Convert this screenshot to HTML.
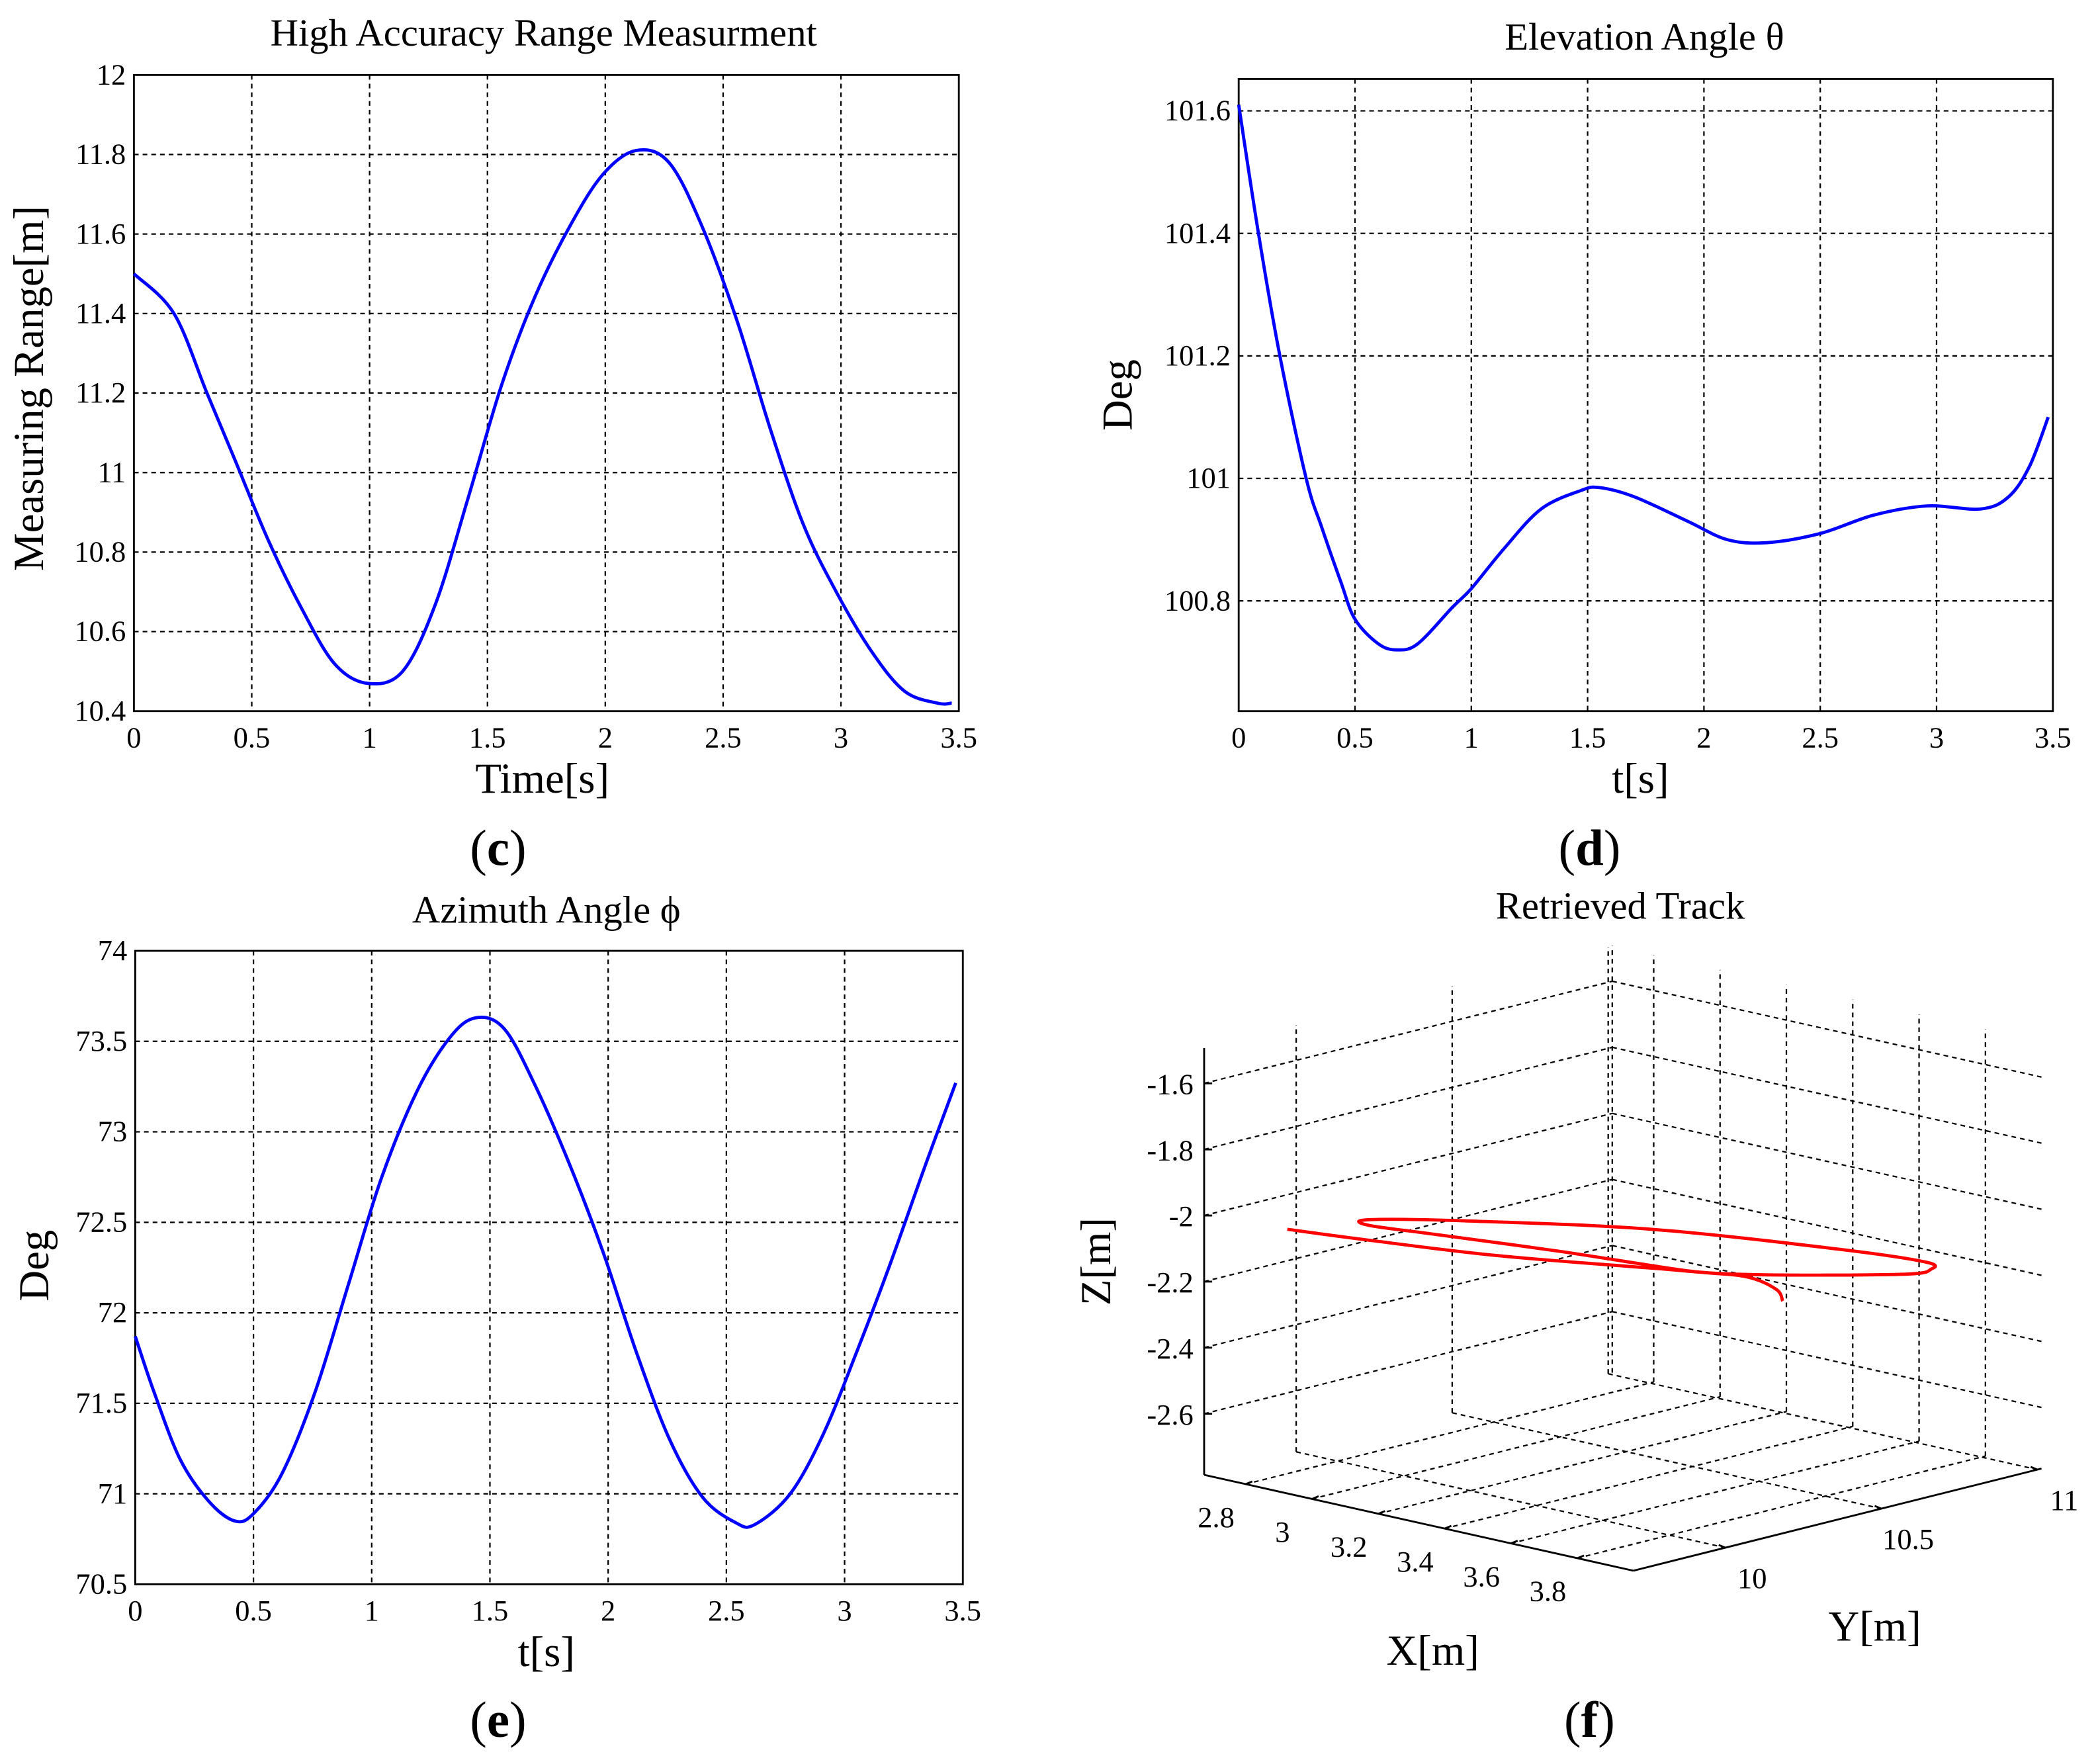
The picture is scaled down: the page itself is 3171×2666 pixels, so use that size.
<!DOCTYPE html>
<html><head><meta charset="utf-8"><style>
html,body{margin:0;padding:0;background:#fff;}
svg{display:block;}
svg text{font-family:"Liberation Serif","Times New Roman",serif !important;fill:#000;}
</style></head><body>
<svg id="fig" width="3171" height="2666" viewBox="0 0 1566.7 1317.2" preserveAspectRatio="none" font-family="Liberation Serif, serif" xmlns="http://www.w3.org/2000/svg"></svg>
<script>
// ---- Panel c: range ----
const rangeT = [0,0.17,0.31,0.43,0.57,0.71,0.85,0.99,1.14,1.28,1.42,1.56,1.70,1.85,1.99,2.13,2.27,2.41,2.56,2.70,2.84,2.98,3.13,3.27,3.41,3.47];
const rangeV = [11.5,11.40,11.2,11.03,10.83,10.66,10.52,10.47,10.5,10.67,10.94,11.22,11.44,11.62,11.75,11.81,11.78,11.62,11.38,11.11,10.87,10.70,10.55,10.45,10.42,10.42];
const rangeYTicks = ["10.4","10.6","10.8","11","11.2","11.4","11.6","11.8","12"];
// ---- Panel d: elevation ----
const elevT = [0,0.085,0.177,0.29,0.357,0.44,0.5,0.6,0.68,0.77,0.92,1.0,1.14,1.30,1.47,1.55,1.70,1.93,2.10,2.27,2.50,2.73,2.96,3.19,3.31,3.40,3.48];
const elevV = [101.61,101.4,101.2,101.0,100.92,100.83,100.77,100.73,100.72,100.73,100.79,100.82,100.885,100.95,100.98,100.985,100.97,100.93,100.90,100.895,100.91,100.94,100.955,100.95,100.97,101.02,101.10];
const elevYTicks = ["100.8","101","101.2","101.4","101.6"];
// ---- Panel e: azimuth ----
const azT = [0,0.08,0.19,0.31,0.42,0.50,0.62,0.76,0.90,1.04,1.19,1.33,1.44,1.56,1.69,1.84,1.98,2.12,2.26,2.40,2.54,2.62,2.77,2.91,3.05,3.19,3.34,3.47];
const azV = [71.87,71.56,71.19,70.96,70.85,70.89,71.11,71.56,72.15,72.74,73.22,73.52,73.63,73.57,73.26,72.81,72.33,71.78,71.30,70.98,70.84,70.83,71.0,71.33,71.78,72.26,72.81,73.27];
const azYTicks = ["70.5","71","71.5","72","72.5","73","73.5","74"];
const timeTicks = ["0","0.5","1","1.5","2","2.5","3","3.5"];
// ---- Panel f: 3D track ----
const trackX = [2.685,2.894,3.186,3.513,3.701,3.948,3.964,3.908,3.688,3.266,2.916,2.755,2.787,2.952,3.257,3.576,3.715,3.845,3.931];
const trackY = [9.961,10.013,10.100,10.249,10.347,10.582,10.665,10.704,10.659,10.512,10.288,10.151,10.111,10.150,10.223,10.282,10.333,10.294,10.224];
const trackZ = [-2.1,-2.1,-2.1,-2.1,-2.1,-2.1,-2.1,-2.1,-2.1,-2.1,-2.1,-2.1,-2.1,-2.1,-2.1,-2.1,-2.1,-2.1,-2.1];
const xTicks3d = ["2.8","3","3.2","3.4","3.6","3.8"];
const yTicks3d = ["10","10.5","11"];
const zTicks3d = ["-2.6","-2.4","-2.2","-2","-1.8","-1.6"];

const NS="http://www.w3.org/2000/svg";
const svg=document.getElementById('fig');
const FONT="Liberation Serif, Times New Roman, serif";
function mk(tag,attrs,parent){const e=document.createElementNS(NS,tag);for(const k in attrs)e.setAttribute(k,attrs[k]);(parent||svg).appendChild(e);return e;}
function txt(s,x,y,size,anchor,parent,extra){const e=mk('text',Object.assign({x:x,y:y,'font-size':size,'font-family':FONT,'text-anchor':anchor||'middle'},extra||{}),parent);e.textContent=s;return e;}
function smoothPath(pts){let d='M'+pts[0][0].toFixed(2)+','+pts[0][1].toFixed(2);for(let i=0;i<pts.length-1;i++){const p0=pts[i-1]||pts[i],p1=pts[i],p2=pts[i+1],p3=pts[i+2]||p2;const c1=[p1[0]+(p2[0]-p0[0])/6,p1[1]+(p2[1]-p0[1])/6],c2=[p2[0]-(p3[0]-p1[0])/6,p2[1]-(p3[1]-p1[1])/6];d+='C'+c1[0].toFixed(2)+','+c1[1].toFixed(2)+' '+c2[0].toFixed(2)+','+c2[1].toFixed(2)+' '+p2[0].toFixed(2)+','+p2[1].toFixed(2);}return d;}

function panel2d(o){
  const g=mk('g',{});
  
  
  const sx=v=>o.L+(v-o.x0)/(o.x1-o.x0)*(o.R-o.L);
  const sy=v=>o.B-(v-o.y0)/(o.y1-o.y0)*(o.B-o.T);
  const grid=mk('g',{stroke:'#000','stroke-width':1.1,'stroke-dasharray':'3.5,3'},g);
  
  
  o.xt.forEach(t=>{const v=parseFloat(t),x=sx(v);
    if(v>o.x0&&v<o.x1)mk('line',{x1:x,x2:x,y1:o.T,y2:o.B},grid);
    const l=txt(t,x,o.B+27,22,'middle',g);});
  o.yt.forEach(t=>{const v=parseFloat(t),y=sy(v);
    if(v>o.y0&&v<o.y1)mk('line',{x1:o.L,x2:o.R,y1:y,y2:y},grid);
    const l=txt(t,o.L-6,y+7,22,'end',g);});
  const box=mk('rect',{x:o.L,y:o.T,width:o.R-o.L,height:o.B-o.T,fill:'none',stroke:'#000','stroke-width':1.4},g);
  
  const pts=o.t.map((t,i)=>[sx(t),sy(o.v[i])]);
  const line=mk('path',{d:smoothPath(pts),fill:'none',stroke:'#0000ff','stroke-width':2.4},g);
  
  const ti=txt(o.title,o.titleX,o.titleY,29,'middle',g);
  const xl=txt(o.xlabel,o.xlX,o.xlY,32,'middle',g);
  const yl=txt(o.ylabel,0,0,32,'middle',g,{transform:'translate('+o.ylX+','+o.ylY+') rotate(-90)'});
  const cap=mk('text',{x:o.capX,y:o.capY,'font-size':38,'font-family':FONT,'text-anchor':'middle'},g);
  cap.innerHTML='(<tspan font-weight="bold">'+o.cap+'</tspan>)';
  
}
panel2d({name:'range-chart',L:100,R:716,T:56,B:531,x0:0,x1:3.5,y0:10.4,y1:12,xt:timeTicks,yt:rangeYTicks,t:rangeT,v:rangeV,
  title:'High Accuracy Range Measurment',titleX:406,titleY:34,xlabel:'Time[s]',xlX:405,xlY:592,ylabel:'Measuring Range[m]',ylX:32,ylY:290,cap:'c',capX:372,capY:646});
panel2d({name:'elevation-chart',L:925,R:1533,T:59,B:531,x0:0,x1:3.5,y0:100.62,y1:101.652,xt:timeTicks,yt:elevYTicks,t:elevT,v:elevV,
  title:'Elevation Angle θ',titleX:1228,titleY:37,xlabel:'t[s]',xlX:1225,xlY:592,ylabel:'Deg',ylX:845,ylY:295,cap:'d',capX:1187,capY:646});
panel2d({name:'azimuth-chart',L:101,R:719,T:710,B:1183,x0:0,x1:3.5,y0:70.5,y1:74,xt:timeTicks,yt:azYTicks,t:azT,v:azV,
  title:'Azimuth Angle ϕ',titleX:408,titleY:689,xlabel:'t[s]',xlX:408,xlY:1244,ylabel:'Deg',ylX:36,ylY:945,cap:'e',capX:372,capY:1297});

// ---- 3D panel ----
(function(){
  const g=mk('g',{});
  
  
  const xmin=2.675,xmax=3.969,ymin=9.705,ymax=11.013,zmin=-2.785,zmax=-1.493;
  const P=(x,y,z)=>[899.2+(x-xmin)*247.7+(y-ymin)*233, 1101.3+(x-xmin)*55.3-(y-ymin)*58.3-(z-zmin)*246.7];
  const grid=mk('g',{stroke:'#000','stroke-width':1.1,'stroke-dasharray':'3.5,3',fill:'none'},g);
  
  
  const L=(a,b)=>mk('line',{x1:a[0],y1:a[1],x2:b[0],y2:b[1]},grid);
  L(P(xmin,ymax,zmin),P(xmin,ymax,zmax));
  yTicks3d.forEach(t=>{const y=parseFloat(t);
    L(P(xmin,y,zmin),P(xmin,y,zmax)); L(P(xmin,y,zmin),P(xmax,y,zmin));});
  xTicks3d.forEach(t=>{const x=parseFloat(t);
    L(P(x,ymax,zmin),P(x,ymax,zmax)); L(P(x,ymin,zmin),P(x,ymax,zmin));});
  zTicks3d.forEach(t=>{const z=parseFloat(t);
    L(P(xmin,ymin,z),P(xmin,ymax,z)); L(P(xmin,ymax,z),P(xmax,ymax,z));});
  const ax=mk('g',{stroke:'#000','stroke-width':1.4},g);
  
  
  const A=(a,b)=>mk('line',{x1:a[0],y1:a[1],x2:b[0],y2:b[1]},ax);
  A(P(xmin,ymin,zmin),P(xmin,ymin,zmax));
  A(P(xmin,ymin,zmin),P(xmax,ymin,zmin));
  A(P(xmax,ymin,zmin),P(xmax,ymax,zmin));
  zTicks3d.forEach(t=>{const p=P(xmin,ymin,parseFloat(t));A(p,[p[0]+6,p[1]]);
    const l=txt(t,p[0]-8,p[1]+8,22,'end',g);});
  xTicks3d.forEach(t=>{const p=P(parseFloat(t),ymin,zmin);A(p,[p[0]+5,p[1]-2]);
    const l=txt(t,p[0]-22,p[1]+32,22,'middle',g);});
  yTicks3d.forEach(t=>{const p=P(xmax,parseFloat(t),zmin);A(p,[p[0]-5,p[1]-2]);
    const l=txt(t,p[0]+20,p[1]+30,22,'middle',g);});
  const pts=trackX.map((x,i)=>P(x,trackY[i],trackZ[i]));
  const tr=mk('path',{d:smoothPath(pts),fill:'none',stroke:'#ff0000','stroke-width':2.4,'stroke-linejoin':'round'},g);
  
  
  const ti=txt('Retrieved Track',1210,686,29,'middle',g);
  const xl=txt('X[m]',1070,1243,32,'middle',g);
  const yl=txt('Y[m]',1400,1225,32,'middle',g);
  const zl=txt('Z[m]',0,0,32,'middle',g,{transform:'translate(829,942) rotate(-90)'});
  const cap=mk('text',{x:1187,y:1297,'font-size':38,'font-family':FONT,'text-anchor':'middle'},g);
  cap.innerHTML='(<tspan font-weight="bold">f</tspan>)';
  
})();
</script>
</body></html>
